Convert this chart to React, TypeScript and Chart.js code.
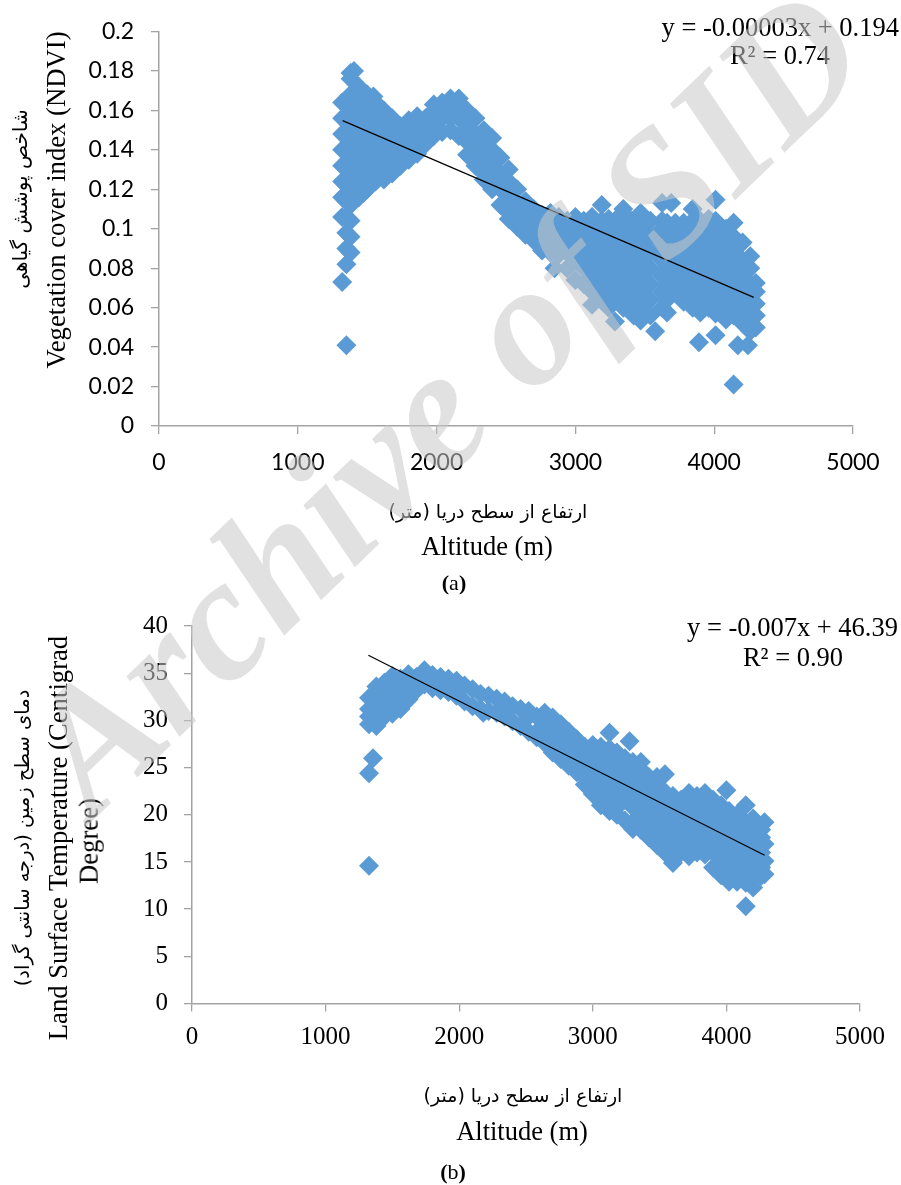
import React, { useEffect, useRef } from "react";
import { Chart, registerables } from "chart.js";

Chart.register(...registerables);

const ndviAltitudes = [1320, 1350, 1380, 1405, 1440, 1470, 1500, 1545, 1560, 1620, 1680, 1740, 1800, 1860, 1920, 1980, 2040, 2100, 2160, 2220, 2280, 2340, 2400, 2460, 2520, 2580, 2640, 2700, 2760, 2820, 2850, 2880, 2940, 3000, 3060, 3120, 3190, 3240, 3285, 3345, 3420, 3470, 3540, 3575, 3625, 3660, 3690, 3720, 3780, 3845, 3890, 3900, 3960, 4010, 4085, 4140, 4170, 4205, 4243, 4260, 4300];
const ndviValues = [
  [0.073, 0.106, 0.116, 0.124, 0.132, 0.14, 0.148, 0.156, 0.164],
  [0.041, 0.082, 0.09, 0.098, 0.106, 0.114],
  [0.088, 0.096, 0.104, 0.112, 0.12, 0.128, 0.136, 0.144, 0.152, 0.16, 0.168, 0.176, 0.179],
  [0.18],
  [0.116, 0.124, 0.132, 0.14, 0.148, 0.156, 0.164, 0.172],
  [0.118],
  [0.12, 0.128, 0.136, 0.144, 0.152, 0.16, 0.168],
  [0.167],
  [0.124, 0.132, 0.14, 0.148, 0.156, 0.164],
  [0.125, 0.128, 0.136, 0.144, 0.152, 0.16],
  [0.128, 0.132, 0.14, 0.148, 0.156],
  [0.132, 0.136, 0.144, 0.152],
  [0.135, 0.14, 0.148, 0.155],
  [0.138, 0.144, 0.152, 0.157],
  [0.143, 0.148, 0.156],
  [0.147, 0.152, 0.16, 0.163],
  [0.149, 0.156, 0.164],
  [0.15, 0.156, 0.16, 0.166],
  [0.147, 0.156, 0.164, 0.166],
  [0.1375, 0.144, 0.152, 0.16],
  [0.132, 0.14, 0.148, 0.156],
  [0.125, 0.128, 0.136, 0.144, 0.15],
  [0.12, 0.124, 0.132, 0.14, 0.146],
  [0.112, 0.12, 0.128, 0.136],
  [0.105, 0.108, 0.116, 0.124, 0.13],
  [0.101, 0.104, 0.112, 0.12],
  [0.097, 0.1, 0.108, 0.114],
  [0.094, 0.096, 0.104, 0.11],
  [0.089, 0.092, 0.1, 0.107],
  [0.088, 0.096, 0.104, 0.108],
  [0.08],
  [0.087, 0.092, 0.1, 0.106],
  [0.08, 0.088, 0.096, 0.104],
  [0.074, 0.084, 0.092, 0.1, 0.106],
  [0.072, 0.08, 0.088, 0.096, 0.104],
  [0.0615, 0.068, 0.076, 0.084, 0.092, 0.1, 0.106],
  [0.064, 0.072, 0.08, 0.088, 0.096, 0.104, 0.112],
  [0.06, 0.068, 0.076, 0.084, 0.092, 0.1, 0.105],
  [0.053, 0.064, 0.072, 0.08, 0.088, 0.096, 0.104],
  [0.06, 0.068, 0.076, 0.084, 0.092, 0.1, 0.108, 0.11],
  [0.056, 0.064, 0.072, 0.08, 0.088, 0.096, 0.104],
  [0.0535, 0.06, 0.068, 0.076, 0.084, 0.092, 0.1, 0.108],
  [0.056, 0.064, 0.072, 0.08, 0.088, 0.096, 0.104],
  [0.048],
  [0.06, 0.068, 0.076, 0.084, 0.092, 0.1, 0.104, 0.113],
  [0.0575, 0.064, 0.072, 0.08, 0.088, 0.096, 0.103],
  [0.113],
  [0.068, 0.076, 0.084, 0.092, 0.1, 0.103],
  [0.063, 0.072, 0.08, 0.088, 0.096, 0.103],
  [0.06, 0.068, 0.076, 0.084, 0.092, 0.1, 0.104, 0.11],
  [0.0425],
  [0.0575, 0.064, 0.072, 0.08, 0.088, 0.096, 0.104],
  [0.06, 0.068, 0.076, 0.084, 0.092, 0.1, 0.105],
  [0.046, 0.057, 0.064, 0.072, 0.08, 0.088, 0.096, 0.104, 0.1147],
  [0.054, 0.06, 0.068, 0.076, 0.084, 0.092, 0.1],
  [0.021, 0.056, 0.064, 0.072, 0.08, 0.088, 0.096, 0.103],
  [0.041],
  [0.052, 0.06, 0.068, 0.076, 0.084, 0.093],
  [0.041],
  [0.048, 0.056, 0.064, 0.072, 0.08, 0.086],
  [0.05, 0.056, 0.062, 0.068, 0.0725],
];
const ndviTrendAltitudes = [1323, 4285];
const ndviTrendValues = [0.1548, 0.0652];

const lstAltitudes = [1325, 1355, 1380, 1440, 1500, 1560, 1620, 1680, 1740, 1800, 1860, 1920, 1980, 2040, 2100, 2160, 2180, 2220, 2280, 2340, 2400, 2460, 2520, 2580, 2640, 2700, 2760, 2820, 2880, 2940, 3000, 3060, 3125, 3180, 3240, 3275, 3300, 3360, 3420, 3480, 3540, 3600, 3660, 3720, 3780, 3840, 3900, 3960, 4000, 4020, 4080, 4145, 4200, 4260, 4285];
const lstValues = [
  [14.6, 24.4, 29.6, 30.4, 31.2, 32.4],
  [26],
  [29.4, 30.4, 32, 33.6],
  [30.4, 31.2, 32.8, 34],
  [30.7, 32, 33.6, 34.7],
  [31.2, 32.8, 34.4],
  [32.2, 33.6, 34.9],
  [33.2, 34.6],
  [33.8, 35.3],
  [33.4, 34.8],
  [33.2, 34.6],
  [33, 34.4],
  [32.6, 34.2],
  [32, 33.7],
  [31.5, 33.3],
  [31.2, 32.8],
  [30.8],
  [31, 32.6],
  [30.8, 32.3],
  [30.4, 32],
  [29.9, 31.5],
  [29.4, 31.2],
  [28.8, 30.4, 31],
  [28.2, 28.8, 30.4],
  [27.6, 28, 29.6, 30.8],
  [26.6, 27.2, 28.8, 30.3],
  [25.9, 26.4, 28, 29.6],
  [25.2, 25.6, 27.2, 28.8],
  [24.5, 24.8, 26.4, 28],
  [23.2, 24, 25.6, 27.2],
  [22.2, 23.2, 24.8, 26.4, 27.4],
  [21, 22.4, 24, 25.6, 27.2],
  [20.4, 21.6, 23.2, 24.8, 26.4, 27, 28.7],
  [20, 20.8, 22.4, 24, 25.6, 26.6],
  [19.4, 21.6, 23.2, 24.8, 26],
  [27.8],
  [18.5, 19.2, 20.8, 22.4, 24, 25.6],
  [18.4, 20, 21.6, 23.2, 24.8, 25.6],
  [17.6, 19.2, 20.8, 22.4, 24],
  [16.8, 18.4, 20, 21.6, 23.2, 24],
  [16, 17.6, 19.2, 20.8, 22.4, 24.3],
  [14.9, 16.8, 18.4, 20, 21.6, 22],
  [16, 17.6, 19.2, 20.8, 21.6],
  [15.6, 16.8, 18.4, 20, 21.6, 22.3],
  [16, 17.6, 19.2, 20.8, 22],
  [15.8, 16.8, 18.4, 20, 21.6, 22.3],
  [14.4, 16, 17.6, 19.2, 20.8, 21.6],
  [13.6, 15.2, 16.8, 18.4, 20, 21],
  [22.6],
  [12.9, 14.4, 16, 17.6, 19.2, 20.4],
  [12.9, 13.6, 15.2, 16.8, 18.4, 20],
  [10.3, 12.8, 14.4, 16, 17.6, 19.2, 21],
  [12.3, 13.6, 15.2, 16.8, 18.4, 19.6],
  [13.5, 14.4, 16, 17.6, 18.4],
  [13.7, 15.1, 16.9, 19.2],
];
const lstTrendAltitudes = [1320, 4286];
const lstTrendValues = [36.9, 15.7];

const xMax = 5000;
const xStep = 1000;
const ndviMax = 0.2;
const ndviStep = 0.02;
const lstMax = 40;
const lstStep = 5;

const BLUE = "#5B9BD5";
const AXIS = "#A3A3A3";
const SERIF = '"Liberation Serif", serif';
const ARABIC = '"DejaVu Sans", sans-serif';

function flatten(xs: number[], ys: number[][]) {
  const out: { x: number; y: number }[] = [];
  xs.forEach((x, i) => ys[i].forEach((y) => out.push({ x, y })));
  return out;
}
function pairs(xs: number[], ys: number[]) {
  return xs.map((x, i) => ({ x, y: ys[i] }));
}

type PanelProps = {
  top: number;
  height: number;
  axisLeft: number;
  axisRight: number;
  axisTop: number;
  axisBottom: number;
  yMax: number;
  yStep: number;
  fontFamily: string;
  fontSize: number;
  xPad: number;
  yPad: number;
  points: { x: number; y: number }[];
  trend: { x: number; y: number }[];
};

function Panel(p: PanelProps) {
  const ref = useRef<HTMLCanvasElement | null>(null);
  useEffect(() => {
    const font = { family: p.fontFamily, size: p.fontSize };
    const label = (v: any) => String(Math.round(Number(v) * 100) / 100);
    const chart = new Chart(ref.current as HTMLCanvasElement, {
      type: "scatter",
      data: {
        datasets: [
          {
            data: p.trend,
            showLine: true,
            borderColor: "#000000",
            borderWidth: 1.2,
            pointRadius: 0,
          },
          {
            data: p.points,
            pointStyle: "rectRot",
            pointRadius: 10,
            pointBorderWidth: 0,
            backgroundColor: BLUE,
            borderColor: BLUE,
            showLine: false,
          },
        ],
      } as any,
      options: {
        animation: false,
        responsive: false,
        layout: {
          padding: {
            top: p.axisTop,
            right: 901 - p.axisRight,
            left: 0,
            bottom: 0,
          },
        },
        plugins: { legend: { display: false }, tooltip: { enabled: false } },
        scales: {
          x: {
            type: "linear",
            min: 0,
            max: xMax,
            ticks: { stepSize: xStep, color: "#000", font, padding: p.xPad, maxRotation: 0, autoSkip: false, callback: label },
            grid: { drawOnChartArea: false, drawTicks: true, tickLength: 8, color: AXIS, lineWidth: 1.3 },
            border: { color: AXIS, width: 1.5 },
            afterFit: (s: any) => {
              s.height = p.height - p.axisBottom;
            },
          },
          y: {
            type: "linear",
            min: 0,
            max: p.yMax,
            ticks: {
              stepSize: p.yStep,
              color: "#000",
              font,
              padding: p.yPad,
              autoSkip: false,
              callback: label,
            },
            grid: { drawOnChartArea: false, drawTicks: true, tickLength: 8, color: AXIS, lineWidth: 1.3 },
            border: { color: AXIS, width: 1.5 },
            afterFit: (s: any) => {
              s.width = p.axisLeft;
            },
          },
        },
      } as any,
    });
    return () => chart.destroy();
  }, []);
  return (
    <canvas
      ref={ref}
      width={901}
      height={p.height}
      style={{ position: "absolute", left: 0, top: p.top, width: 901, height: p.height }}
    />
  );
}

function Txt(props: { x: number; y: number; size: number; font?: string; rot?: number; anchor?: "c" | "r"; dir?: string; children: React.ReactNode }) {
  const { x, y, size, font = SERIF, rot = 0, anchor = "c", dir, children } = props;
  const tx = anchor === "c" ? "-50%" : "-100%";
  return (
    <div
      dir={dir}
      style={{
        position: "absolute",
        left: x,
        top: y,
        fontFamily: font,
        fontSize: size,
        lineHeight: 1,
        whiteSpace: "nowrap",
        color: "#000",
        transform: `translate(${tx}, -50%)` + (rot ? ` rotate(${rot}deg)` : ""),
      }}
    >
      {children}
    </div>
  );
}

export default function App() {
  useEffect(() => {
    document.body.style.margin = "0";
    document.body.style.background = "#fff";
  }, []);
  return (
    <div style={{ position: "absolute", left: 0, top: 0, width: 901, height: 1185, overflow: "hidden", background: "#fff" }}>
      <Panel
        top={0}
        height={590}
        axisLeft={159}
        axisRight={853}
        axisTop={31.5}
        axisBottom={426}
        yMax={ndviMax}
        yStep={ndviStep}
        fontFamily="Lato, sans-serif"
        fontSize={23}
        xPad={15}
        yPad={17}
        points={flatten(ndviAltitudes, ndviValues)}
        trend={pairs(ndviTrendAltitudes, ndviTrendValues)}
      />
      <Panel
        top={590}
        height={595}
        axisLeft={192}
        axisRight={860}
        axisTop={36}
        axisBottom={413.5}
        yMax={lstMax}
        yStep={lstStep}
        fontFamily={SERIF}
        fontSize={25}
        xPad={11}
        yPad={16}
        points={flatten(lstAltitudes, lstValues)}
        trend={pairs(lstTrendAltitudes, lstTrendValues)}
      />

      <Txt x={899} y={27} size={26.5} anchor="r">y = -0.00003x + 0.194</Txt>
      <Txt x={780} y={55} size={26.5}>R² = 0.74</Txt>
      <Txt x={898} y={627} size={26.5} anchor="r">y = -0.007x + 46.39</Txt>
      <Txt x={793} y={657} size={26.5}>R² = 0.90</Txt>

      <Txt x={20} y={199} size={20} font={ARABIC} rot={-90} dir="rtl">شاخص پوشش گیاهی</Txt>
      <Txt x={56} y={200} size={26.7} rot={-90}>Vegetation cover index (NDVI)</Txt>
      <Txt x={23} y={838} size={19.5} font={ARABIC} rot={-90} dir="rtl">دمای سطح زمین (درجه سانتی گراد)</Txt>
      <Txt x={58} y={838} size={26.7} rot={-90}>Land Surface Temperature (Centigrad</Txt>
      <Txt x={89} y={841} size={26.7} rot={-90}>Degree)</Txt>

      <Txt x={488} y={511} size={19} font={ARABIC} dir="rtl">ارتفاع از سطح دریا (متر)</Txt>
      <Txt x={487} y={546} size={26.5}>Altitude (m)</Txt>
      <Txt x={454} y={583} size={22}><b>(</b>a<b>)</b></Txt>
      <Txt x={523} y={1095} size={19} font={ARABIC} dir="rtl">ارتفاع از سطح دریا (متر)</Txt>
      <Txt x={522} y={1131} size={26.5}>Altitude (m)</Txt>
      <Txt x={453} y={1172} size={22}><b>(</b>b<b>)</b></Txt>

      <div
        style={{
          position: "absolute",
          left: 444,
          top: 400,
          fontFamily: SERIF,
          fontStyle: "italic",
          fontWeight: 700,
          fontSize: 175,
          lineHeight: 1,
          whiteSpace: "nowrap",
          color: "rgba(200,200,200,0.55)",
          transform: "translate(-50%, -50%) rotate(-44deg)",
          pointerEvents: "none",
        }}
      >
        Archive of SID
      </div>
    </div>
  );
}
